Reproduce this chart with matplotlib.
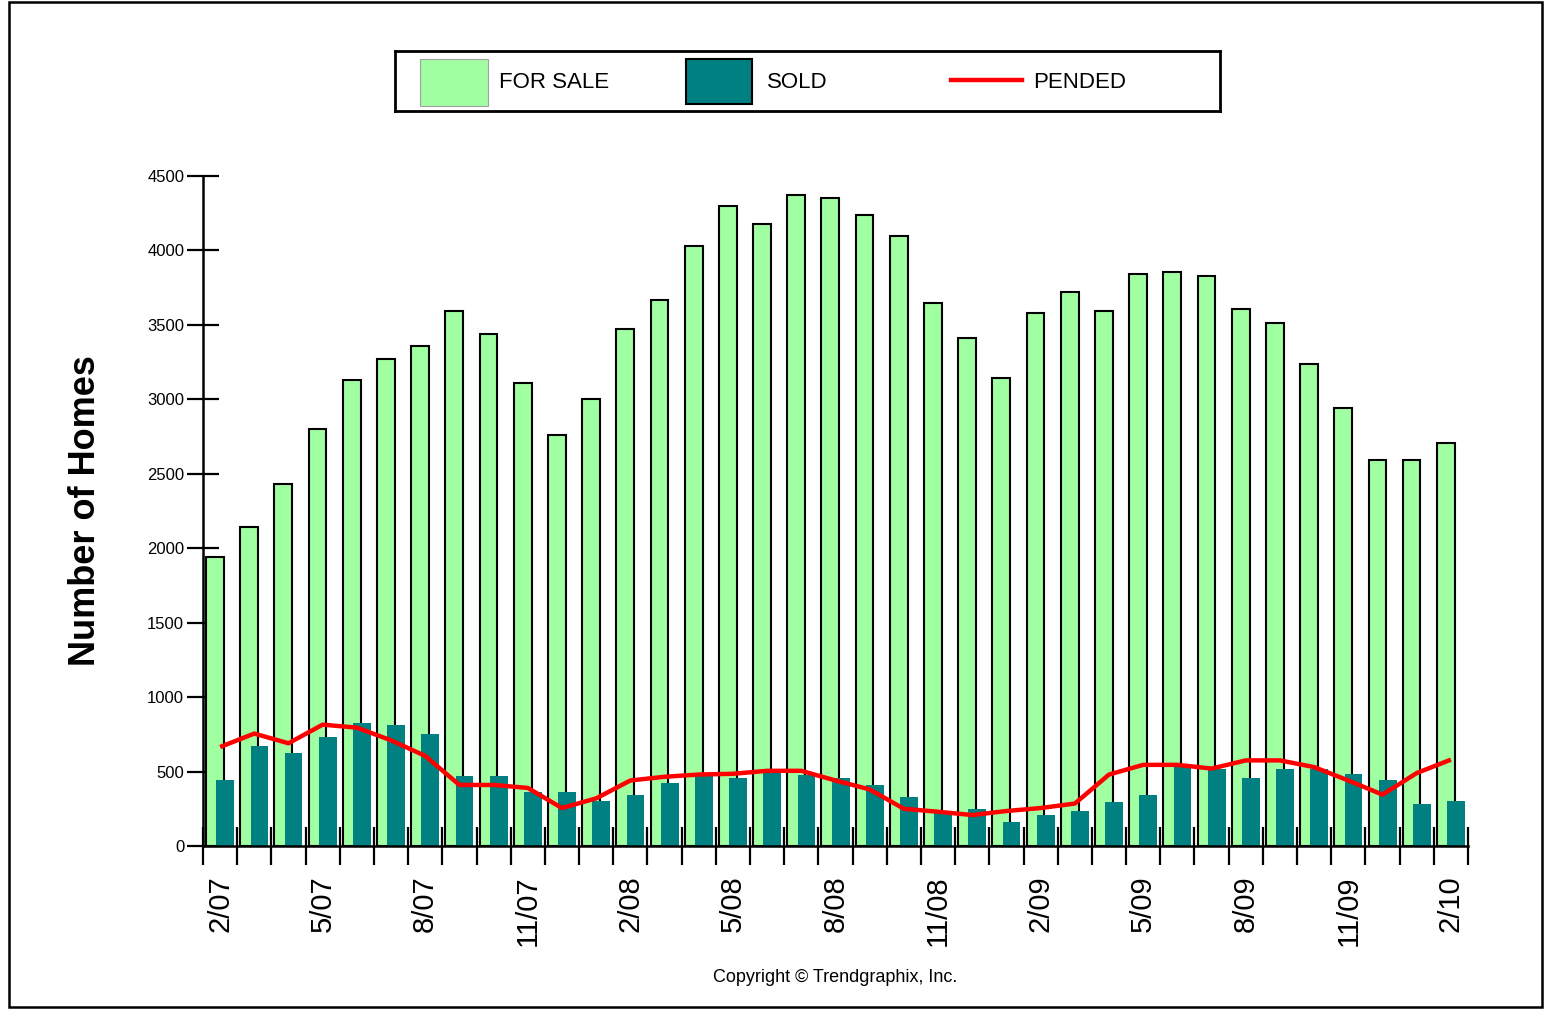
import matplotlib
matplotlib.use("Agg")
import matplotlib.pyplot as plt
from matplotlib.patches import Rectangle
from matplotlib.lines import Line2D
import numpy as np

months = ["2/07", "3/07", "4/07", "5/07", "6/07", "7/07", "8/07", "9/07", "10/07", "11/07", "12/07",
          "1/08", "2/08", "3/08", "4/08", "5/08", "6/08", "7/08", "8/08", "9/08", "10/08", "11/08", "12/08",
          "1/09", "2/09", "3/09", "4/09", "5/09", "6/09", "7/09", "8/09", "9/09", "10/09", "11/09", "12/09",
          "1/10", "2/10"]

for_sale = [1940, 2140, 2430, 2800, 3130, 3270, 3360, 3590, 3440, 3110, 2760, 3000, 3470,
            3670, 4030, 4300, 4180, 4370, 4350, 4240, 4100, 3650, 3410, 3140, 3580, 3720,
            3590, 3840, 3855, 3825, 3610, 3515, 3240, 2945, 2590, 2590, 2710]

sold = [440, 670, 625, 735, 825, 810, 750, 470, 470, 360, 360, 300, 345, 420, 470, 455,
        495, 480, 455, 410, 330, 235, 250, 160, 205, 235, 295, 345, 540, 520, 455, 520,
        515, 485, 440, 285, 300]

pended = [665, 755, 690, 815, 795, 710, 605, 410, 410, 390, 255, 320, 440, 465, 480, 485,
          505, 505, 440, 380, 250, 230, 208, 235, 255, 285, 480, 545, 545, 520, 575, 575,
          530, 440, 345, 490, 580]

y_ticks = [0, 500, 1000, 1500, 2000, 2500, 3000, 3500, 4000, 4500]

GREEN = "#A0FFA0"
TEAL = "#008080"
RED = "#FF0000"

W, H = 1546, 1010
fig = plt.figure(figsize=(W / 100, H / 100), dpi=100)
fig.patch.set_facecolor("white")
plt.rcParams['font.family'] = ['Liberation Sans', 'DejaVu Sans']

ax = fig.add_axes([203 / W, 1 - 846 / H, (1468 - 203) / W, (846 - 176) / H])
x = np.arange(len(months))
ax.bar(x - 0.15, for_sale, width=0.52, color=GREEN, edgecolor="black", linewidth=1.5, zorder=2)
ax.bar(x + 0.15, sold, width=0.52, color=TEAL, edgecolor="none", linewidth=0, zorder=3)
ax.plot(x, pended, color=RED, linewidth=3.2, zorder=4, solid_capstyle="butt")

ax.set_xlim(-0.5, len(months) - 0.5)
ax.set_ylim(0, 4500)
for s in ["top", "right"]:
    ax.spines[s].set_visible(False)
for s in ["left", "bottom"]:
    ax.spines[s].set_linewidth(1.8)
    ax.spines[s].set_color("black")
    ax.spines[s].set_zorder(5)

ax.set_yticks(y_ticks)
ax.set_yticklabels([str(v) for v in y_ticks], fontsize=12)
ax.tick_params(axis="y", direction="inout", length=23, width=1.6, pad=2)

ax.set_xticks(np.arange(len(months) + 1) - 0.5, minor=False)
ax.set_xticklabels([])
ax.tick_params(axis="x", direction="inout", length=28, width=1.6)
ax.set_xticks(x[::3], minor=True)
ax.set_xticklabels(months[::3], minor=True, rotation=90, fontsize=21)
ax.tick_params(axis="x", which="minor", length=0, pad=21)

fig.text(86 / W, 1 - 511 / H, "Number of Homes", rotation=90, fontsize=26,
         fontweight="bold", ha="center", va="center")
fig.text(835 / W, 1 - 977 / H, "Copyright \u00a9 Trendgraphix, Inc.", fontsize=13,
         ha="center", va="center")

# legend box
lax = fig.add_axes([395 / W, 1 - 111 / H, (1220 - 395) / W, (111 - 51) / H])
lax.set_xlim(395, 1220)
lax.set_ylim(111, 51)
lax.set_xticks([])
lax.set_yticks([])
for s in lax.spines.values():
    s.set_linewidth(2)
lax.add_patch(Rectangle((420, 59), 68, 47, facecolor=GREEN, edgecolor="#A0A0A0", linewidth=0.8))
lax.add_patch(Rectangle((686, 59), 66, 45, facecolor=TEAL, edgecolor="black", linewidth=1.5))
lax.add_line(Line2D([951, 1022], [80, 80], color=RED, linewidth=3.2))
lax.text(499, 82, "FOR SALE", fontsize=16, va="center", ha="left")
lax.text(767, 82, "SOLD", fontsize=16, va="center", ha="left")
lax.text(1033, 82, "PENDED", fontsize=16, va="center", ha="left")

# outer border
fig.add_artist(Rectangle((9 / W, 1 - 1007 / H), (1542 - 9) / W, (1007 - 2) / H,
                         transform=fig.transFigure, fill=False, edgecolor="black", linewidth=1.8))

fig.savefig("out.png", dpi=100, facecolor="white")
